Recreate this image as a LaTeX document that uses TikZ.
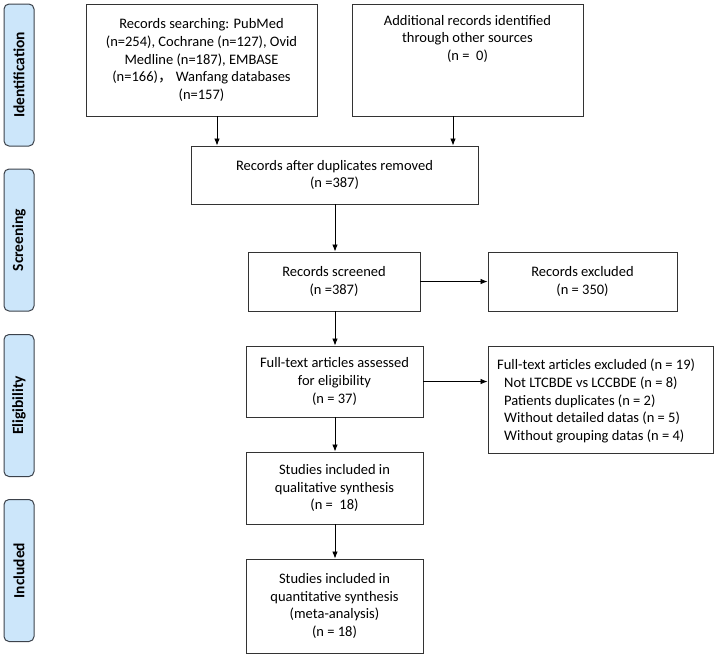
\documentclass[tikz,border=0pt]{standalone}
\usepackage{fontspec}
\setmainfont{Carlito}
\newfontfamily\cjkfont{Noto Sans CJK SC}
\usetikzlibrary{arrows.meta}
\definecolor{sidefill}{RGB}{204,230,250}
\definecolor{sidedraw}{RGB}{60,66,75}
\begin{document}
\begin{tikzpicture}[x=1pt,y=-1pt,
  box/.style={draw=black!80, line width=0.9pt, fill=white, inner sep=0pt, font=\fontsize{14.5}{17.7}\selectfont, align=center},
  side/.style={draw=sidedraw, line width=1pt, fill=sidefill, rounded corners=5pt, rotate=90, minimum width=142pt, minimum height=30pt, inner sep=0pt, font=\bfseries\fontsize{15.5}{16}\selectfont},
  arr/.style={-{Latex[length=7pt,width=5.5pt]}, line width=0.8pt, draw=black}]
\useasboundingbox (0,0) rectangle (716,657);
% side labels
\node[side] (s1) at (19,75) {Identification};
\node[side] (s2) at (19,240) {Screening};
\node[side] (s3) at (19,405.5) {Eligibility};
\node[side] (s4) at (19,570.5) {Included};
% boxes
\node[box, minimum width=231pt, minimum height=112pt] (A) at (201.5,60) {Records searching: PubMed\\(n=254), Cochrane (n=127), Ovid\\Medline (n=187), EMBASE\\(n=166){\cjkfont ，}\ Wanfang databases\\(n=157)};
\node[box, minimum width=231pt, minimum height=112pt] (B) at (467.5,60) {};
\node[font=\fontsize{14.5}{17.7}\selectfont, align=center, anchor=north, inner sep=0pt] (Bt) at (467.5,15) {Additional records identified\\through other sources\\(n =\ \ 0)};
\node[box, minimum width=287pt, minimum height=58pt] (C) at (334.5,175) {Records after duplicates removed\\(n =387)};
\node[box, minimum width=172pt, minimum height=59pt] (D) at (334,281.5) {Records screened\\(n =387)};
\node[box, minimum width=189pt, minimum height=59pt] (E) at (582.5,281.5) {Records excluded\\(n = 350)};
\node[box, minimum width=177pt, minimum height=71pt] (F) at (334.5,381.5) {Full-text articles assessed\\for eligibility\\(n = 37)};
\node[box, minimum width=225pt, minimum height=107pt] (G) at (600.5,399.5) {};
\node[font=\fontsize{14.5}{17.7}\selectfont, align=left, anchor=west, inner sep=0pt] (Gt) at (497,401) {Full-text articles excluded (n = 19)\\\hspace*{7pt}Not LTCBDE vs LCCBDE (n = 8)\\\hspace*{7pt}Patients duplicates (n = 2)\\\hspace*{7pt}Without detailed datas (n = 5)\\\hspace*{7pt}Without grouping datas (n = 4)};
\node[box, minimum width=177pt, minimum height=72pt] (H) at (334.5,488) {Studies included in\\qualitative synthesis\\(n =\ \ 18)};
\node[box, minimum width=177pt, minimum height=94pt] (I) at (334.5,606) {Studies included in\\quantitative synthesis\\(meta-analysis)\\(n = 18)};
% connectors
\coordinate (xa) at (217,0);
\coordinate (xb) at (453,0);
\coordinate (xc) at (335,0);
\draw[arr] (A.south -| xa) -- (C.north -| xa);
\draw[arr] (B.south -| xb) -- (C.north -| xb);
\draw[arr] (C.south -| xc) -- (D.north -| xc);
\draw[arr] (D.east) -- (E.west);
\draw[arr] (D.south -| xc) -- (F.north -| xc);
\draw[arr] (F.east) -- (F.east -| G.west);
\draw[arr] (F.south -| xc) -- (H.north -| xc);
\draw[arr] (H.south -| xc) -- (I.north -| xc);
\end{tikzpicture}
\end{document}
